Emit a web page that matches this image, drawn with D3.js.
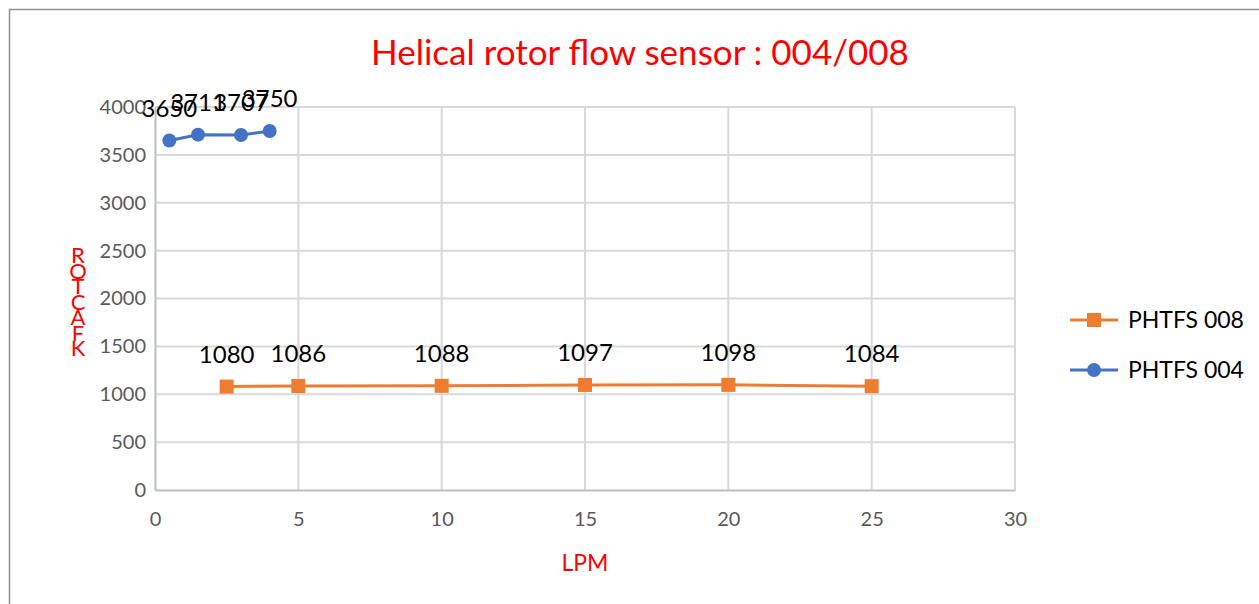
<!DOCTYPE html>
<html>
<head>
<meta charset="utf-8">
<script src="https://cdn.jsdelivr.net/npm/d3@7"></script>
<style>
  body { margin: 0; background: #fff; }
  svg { display: block; font-family: Lato, "Open Sans", sans-serif; }
</style>
</head>
<body>
<div id="chart"></div>
<script>
// data
const lpm008 = [2.5, 5, 10, 15, 20, 25];
const k008 = [1080, 1086, 1088, 1097, 1098, 1084];
const lpm004 = [0.5, 1.5, 3, 4];
const k004 = [3650, 3711, 3707, 3750];
const xTicks = [0, 5, 10, 15, 20, 25, 30];
const yTicks = [0, 500, 1000, 1500, 2000, 2500, 3000, 3500, 4000];
const yTitleLetters = ['R', 'O', 'T', 'C', 'A', 'F', 'K'];
const legendNames = ['PHTFS 008', 'PHTFS 004'];

const W = 1259, H = 604;
const margin = { left: 155, right: 244, top: 107, bottom: 114 };
const chartWidth = W - margin.left - margin.right;
const chartHeight = H - margin.top - margin.bottom;

const svg = d3.select('#chart').append('svg')
  .attr('width', W)
  .attr('height', H);

// chart outer border
svg.append('rect')
  .attr('x', 9.5).attr('y', 9.5)
  .attr('width', W).attr('height', H)
  .attr('fill', 'none')
  .attr('stroke', '#8f8f8f')
  .attr('stroke-width', 1.5);

const scaleX = d3.scaleLinear().domain([0, 30]).range([0, chartWidth]);
const scaleY = d3.scaleLinear().domain([0, 4000]).range([chartHeight, 0]);

const g = svg.append('g')
  .attr('transform', `translate(${margin.left},${margin.top})`);

// gridlines
g.append('g').attr('class', 'grid')
  .selectAll('line.h')
  .data(yTicks.slice(1))
  .enter().append('line')
  .attr('x1', 0).attr('x2', chartWidth)
  .attr('y1', d => scaleY(d)).attr('y2', d => scaleY(d))
  .attr('stroke', '#d9d9d9').attr('stroke-width', 2);

g.append('g').attr('class', 'grid')
  .selectAll('line.v')
  .data(xTicks.slice(1))
  .enter().append('line')
  .attr('y1', 0).attr('y2', chartHeight)
  .attr('x1', d => scaleX(d)).attr('x2', d => scaleX(d))
  .attr('stroke', '#d9d9d9').attr('stroke-width', 2);

// axes
const xAxis = d3.axisBottom(scaleX).tickValues(xTicks).tickSize(0).tickPadding(22).tickFormat(d3.format('d'));
const yAxis = d3.axisLeft(scaleY).tickValues(yTicks).tickSize(0).tickPadding(9).tickFormat(d3.format('d'));

const gx = g.append('g')
  .attr('class', 'x axis')
  .attr('transform', `translate(0,${chartHeight})`)
  .call(xAxis);
const gy = g.append('g').attr('class', 'y axis').call(yAxis);

[gx, gy].forEach(a => {
  a.selectAll('text').attr('fill', '#595959').style('font-size', '20px').style('font-family', 'Lato');
});
gx.select('.domain').attr('stroke', '#bfbfbf').attr('stroke-width', 2);
gy.select('.domain').attr('stroke', '#bfbfbf').attr('stroke-width', 2);

// lines
const line = d3.line()
  .x(d => scaleX(d[0]))
  .y(d => scaleY(d[1]));

const s008 = lpm008.map((x, i) => [x, k008[i]]);
const s004 = lpm004.map((x, i) => [x, k004[i]]);

g.append('path')
  .datum(s008)
  .attr('d', line)
  .attr('fill', 'none')
  .attr('stroke', '#ED7D31')
  .attr('stroke-width', 3);

g.append('path')
  .datum(s004)
  .attr('d', line)
  .attr('fill', 'none')
  .attr('stroke', '#4472C4')
  .attr('stroke-width', 3);

// markers
g.selectAll('.sq')
  .data(s008)
  .enter().append('rect')
  .attr('class', 'sq')
  .attr('x', d => scaleX(d[0]) - 7)
  .attr('y', d => scaleY(d[1]) - 7)
  .attr('width', 14).attr('height', 14)
  .attr('fill', '#ED7D31');

g.selectAll('.dot')
  .data(s004)
  .enter().append('circle')
  .attr('class', 'dot')
  .attr('cx', d => scaleX(d[0]))
  .attr('cy', d => scaleY(d[1]))
  .attr('r', 7)
  .attr('fill', '#4472C4');

// data labels
g.selectAll('.lbl')
  .data(s008.concat(s004))
  .enter().append('text')
  .attr('x', d => scaleX(d[0]))
  .attr('y', d => scaleY(d[1]) - 24)
  .attr('text-anchor', 'middle')
  .style('font-size', '24px')
  .attr('fill', '#000')
  .text(d => d[1]);

// title
svg.append('text')
  .attr('x', 640).attr('y', 65)
  .attr('text-anchor', 'middle')
  .style('font-size', '35px')
  .attr('fill', '#ff0000')
  .text('Helical rotor flow sensor : 004/008');

// y title, letters stacked
svg.append('g')
  .selectAll('text')
  .data(yTitleLetters)
  .enter().append('text')
  .attr('x', 78)
  .attr('y', (d, i) => 263 + i * 15.5)
  .attr('text-anchor', 'middle')
  .style('font-size', '22px')
  .attr('fill', '#ff0000')
  .text(d => d);

// x title
svg.append('text')
  .attr('x', margin.left + chartWidth / 2)
  .attr('y', 571)
  .attr('text-anchor', 'middle')
  .style('font-size', '23px')
  .attr('fill', '#ff0000')
  .text('LPM');

// legend
const legend = svg.append('g').attr('transform', 'translate(1070,320)');
const legColors = ['#ED7D31', '#4472C4'];
legendNames.forEach((name, i) => {
  const row = legend.append('g').attr('transform', `translate(0,${i * 50})`);
  row.append('line')
    .attr('x1', 0).attr('x2', 48)
    .attr('stroke', legColors[i]).attr('stroke-width', 3);
  if (i === 0) {
    row.append('rect').attr('x', 17).attr('y', -7).attr('width', 14).attr('height', 14).attr('fill', legColors[i]);
  } else {
    row.append('circle').attr('cx', 24).attr('r', 7).attr('fill', legColors[i]);
  }
  row.append('text')
    .attr('x', 58).attr('y', 8)
    .style('font-size', '23px')
    .attr('fill', '#000')
    .text(name);
});
</script>
</body>
</html>
